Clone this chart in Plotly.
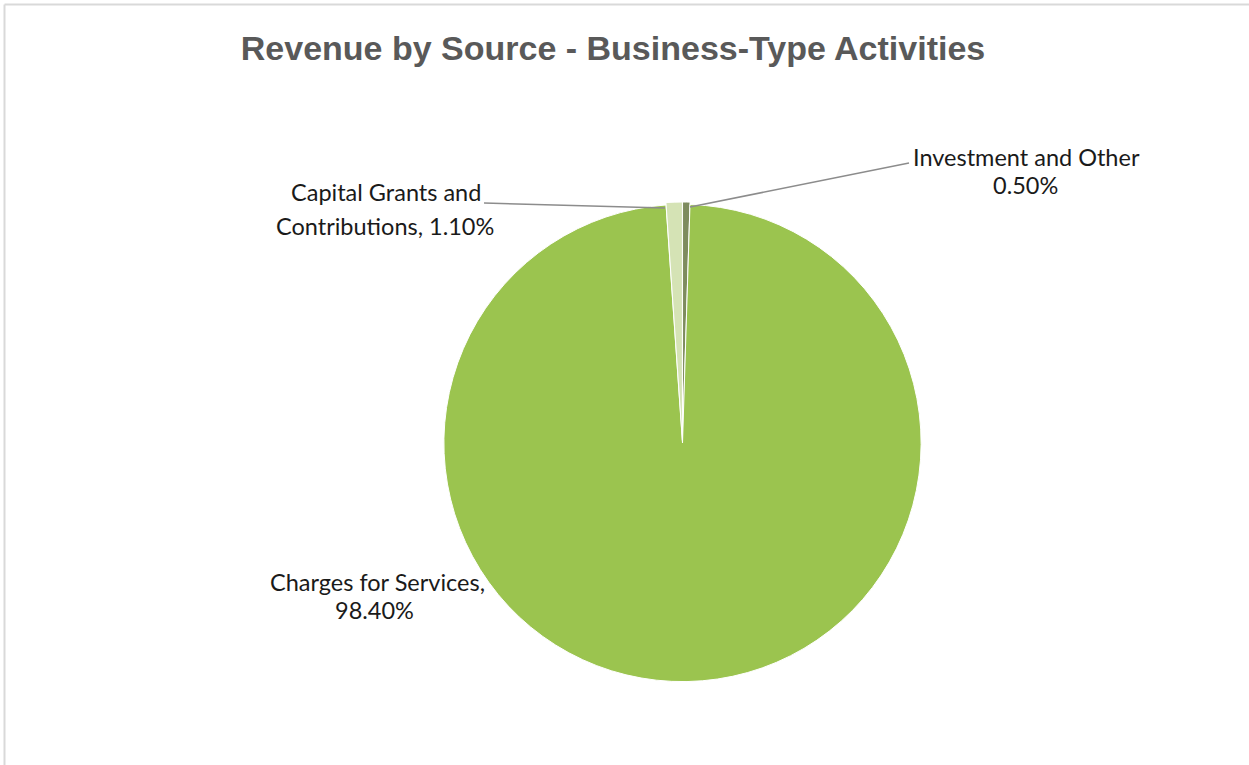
import plotly.graph_objects as go

# Data
labels = ["Investment and Other", "Charges for Services", "Capital Grants and Contributions"]
values = [0.50, 98.40, 1.10]
label_line1 = ["Investment and Other", "Charges for Services,", "Capital Grants and"]
label_line2 = ["0.50%", "98.40%", "Contributions, 1.10%"]
colors = ["#7E8C5E", "#9BC44F", "#D5E3B5"]

W, H = 1249, 765

def px(x):
    return x / W

def py(y):
    return 1 - y / H

fig = go.Figure()
fig.add_trace(go.Pie(
    labels=labels,
    values=values,
    sort=False,
    direction="clockwise",
    rotation=0,
    textinfo="none",
    hoverinfo="label+percent",
    marker=dict(colors=colors, line=dict(color="#FFFFFF", width=1)),
    pull=[0.01, 0, 0.01],
    showlegend=False,
    domain=dict(x=[px(440), px(925)], y=[py(684), py(202)]),
))

font = dict(family="Lato, Open Sans, sans-serif", size=23.5, color="#1A1A1A")
# per-line label placement: (x, y)
pos1 = [(1026, 157), (377, 582), (386, 192)]
pos2 = [(1025, 185), (374, 610), (385, 226)]
for t1, t2, p1, p2 in zip(label_line1, label_line2, pos1, pos2):
    for t, (x, y) in ((t1, p1), (t2, p2)):
        fig.add_annotation(x=px(x), y=py(y), xref="paper", yref="paper", text=t,
                           showarrow=False, font=font, align="center",
                           xanchor="center", yanchor="middle")

shapes = [
    # leader lines
    dict(type="line", xref="paper", yref="paper", x0=px(484), y0=py(203), x1=px(665), y1=py(208),
         line=dict(color="#8C8C8C", width=1.5)),
    dict(type="line", xref="paper", yref="paper", x0=px(909), y0=py(163), x1=px(690), y1=py(207),
         line=dict(color="#8C8C8C", width=1.5)),
    # chart border
    dict(type="line", xref="paper", yref="paper", x0=px(4.5), y0=py(4.5), x1=1, y1=py(4.5),
         line=dict(color="#D9D9D9", width=2)),
    dict(type="line", xref="paper", yref="paper", x0=px(4.5), y0=py(4.5), x1=px(4.5), y1=0,
         line=dict(color="#D9D9D9", width=2)),
]

fig.update_layout(
    width=W, height=H,
    margin=dict(l=0, r=0, t=0, b=0),
    paper_bgcolor="white", plot_bgcolor="white",
    shapes=shapes,
    title=dict(text="<b>Revenue by Source - Business-Type Activities</b>",
               x=px(613), xanchor="center", y=py(48), yanchor="middle",
               font=dict(family="Liberation Sans, Arial, sans-serif", size=34, color="#595959")),
)

fig.write_html("out.html", config={"displayModeBar": False},
               post_script="document.body.style.margin='0';document.body.style.overflow='hidden';")
